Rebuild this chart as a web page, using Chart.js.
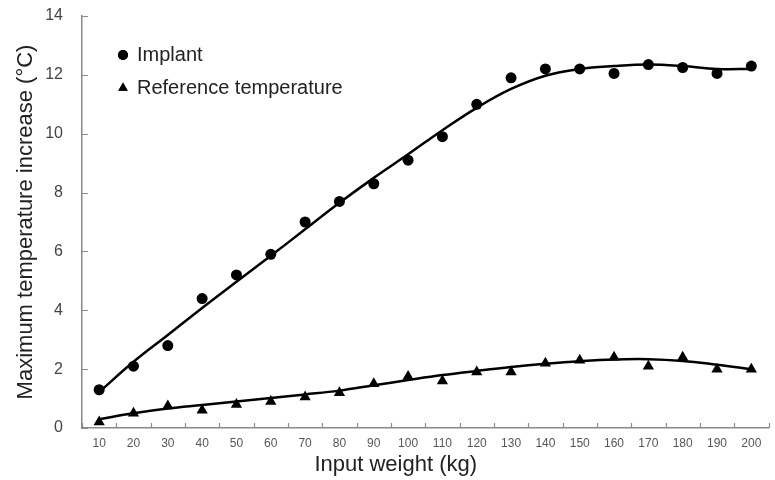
<!DOCTYPE html>
<html>
<head>
<meta charset="utf-8">
<script src="https://cdn.jsdelivr.net/npm/chart.js@4"></script>
<style>
  html, body { margin: 0; padding: 0; background: #fff; }
  #wrap { width: 775px; height: 480px; }
</style>
</head>
<body>
<div id="wrap"><canvas id="chart"></canvas></div>
<script>
// input weight categories (kg)
const weights = ['10','20','30','40','50','60','70','80','90','100','110','120','130','140','150','160','170','180','190','200'];

// measured points
const implant = [1.3, 2.1, 2.8, 4.4, 5.2, 5.9, 7.0, 7.7, 8.3, 9.1, 9.9, 11.0, 11.9, 12.2, 12.2, 12.05, 12.35, 12.25, 12.05, 12.3];
const reference = [0.2, 0.5, 0.75, 0.6, 0.8, 0.9, 1.05, 1.2, 1.5, 1.75, 1.6, 1.9, 1.9, 2.2, 2.3, 2.4, 2.1, 2.4, 2.0, 2.0];

// fitted trend lines
const implantFit = [1.22, 2.25, 3.16, 4.08, 4.97, 5.85, 6.75, 7.65, 8.5, 9.3, 10.12, 10.88, 11.52, 11.97, 12.2, 12.3, 12.35, 12.3, 12.2, 12.2];
const referenceFit = [0.3, 0.5, 0.66, 0.78, 0.9, 1.02, 1.14, 1.27, 1.45, 1.63, 1.8, 1.94, 2.07, 2.18, 2.27, 2.33, 2.34, 2.28, 2.15, 2.0];

const yTicks = [0, 2, 4, 6, 8, 10, 12, 14];

const FONT = 'Arial, "Liberation Sans", sans-serif';

// ticks drawn inward, like the original
const innerTicks = {
  id: 'innerTicks',
  afterDraw(chart) {
    const ctx = chart.ctx;
    const x = chart.scales.x, y = chart.scales.y;
    const area = chart.chartArea;
    ctx.save();
    ctx.strokeStyle = '#8a8a8a';
    ctx.lineWidth = 1.2;
    ctx.beginPath();
    yTicks.forEach(v => {
      const py = Math.round(y.getPixelForValue(v)) + 0.5;
      ctx.moveTo(area.left, py);
      ctx.lineTo(area.left + 6, py);
    });
    for (let i = 0; i <= weights.length; i++) {
      const px = Math.round(x.getPixelForValue(i - 0.5)) + 0.5;
      ctx.moveTo(px, area.bottom);
      ctx.lineTo(px, area.bottom - 5);
    }
    ctx.stroke();

    // x axis title sits a little left of the plot centre in the original
    ctx.font = '22px ' + FONT;
    ctx.fillStyle = '#222';
    ctx.textAlign = 'center';
    ctx.textBaseline = 'middle';
    ctx.fillText('Input weight (kg)', area.left + (area.right - area.left) * 0.457, chart.height - 15);
    ctx.restore();
  }
};

// legend inside the plot area, top left
const innerLegend = {
  id: 'innerLegend',
  afterDraw(chart) {
    const ctx = chart.ctx;
    const area = chart.chartArea;
    const items = [
      { text: 'Implant', style: 'circle', r: 5 },
      { text: 'Reference temperature', style: 'triangle', r: 5.5 }
    ];
    ctx.save();
    ctx.font = '20px ' + FONT;
    ctx.textBaseline = 'middle';
    items.forEach((it, i) => {
      const cy = area.top + 39 + i * 33;
      const cx = area.left + 41;
      Chart.helpers.drawPoint(ctx, { pointStyle: it.style, radius: it.r, borderWidth: 0, rotation: 0 }, cx, cy);
      ctx.fillStyle = '#000';
      ctx.fill();
      ctx.fillStyle = '#222';
      ctx.fillText(it.text, area.left + 55, cy);
    });
    ctx.restore();
  }
};

new Chart(document.getElementById('chart'), {
  type: 'line',
  data: {
    labels: weights,
    datasets: [
      {
        label: 'Implant',
        data: implant,
        showLine: false,
        pointStyle: 'circle',
        pointRadius: 5.5,
        pointBackgroundColor: '#000',
        pointBorderWidth: 0
      },
      {
        label: 'Implant fit',
        data: implantFit,
        borderColor: '#000',
        borderWidth: 2.5,
        pointRadius: 0,
        tension: 0.4
      },
      {
        label: 'Reference temperature',
        data: reference,
        showLine: false,
        pointStyle: 'triangle',
        pointRadius: 6.5,
        pointBackgroundColor: '#000',
        pointBorderWidth: 0
      },
      {
        label: 'Reference fit',
        data: referenceFit,
        borderColor: '#000',
        borderWidth: 2.5,
        pointRadius: 0,
        tension: 0.4
      }
    ]
  },
  options: {
    responsive: true,
    maintainAspectRatio: false,
    animation: false,
    layout: { padding: { top: 16, right: 2, left: 0, bottom: 0 } },
    plugins: {
      legend: { display: false },
      tooltip: { enabled: false }
    },
    scales: {
      x: {
        type: 'category',
        offset: true,
        grid: { display: false, drawTicks: false },
        border: { display: true, color: '#8a8a8a', width: 1.5 },
        ticks: {
          color: '#555',
          font: { family: FONT, size: 12 },
          padding: 8,
          maxRotation: 0,
          autoSkip: false
        },
        afterFit(scale) {
          scale.height = 52;
          scale.paddingLeft = 0;
          scale.paddingRight = 0;
        }
      },
      y: {
        min: 0,
        max: 14,
        grid: { display: false, drawTicks: false },
        border: { display: true, color: '#8a8a8a', width: 1.5 },
        ticks: {
          stepSize: 2,
          color: '#444',
          font: { family: FONT, size: 16 },
          padding: 19
        },
        title: {
          display: true,
          text: 'Maximum temperature increase (°C)',
          color: '#222',
          font: { family: FONT, size: 22 },
          padding: { top: 13, bottom: 0 }
        },
        afterFit(scale) {
          scale.width = 82;
          scale.paddingTop = 0;
          scale.paddingBottom = 0;
        }
      }
    }
  },
  plugins: [innerTicks, innerLegend]
});
</script>
</body>
</html>
